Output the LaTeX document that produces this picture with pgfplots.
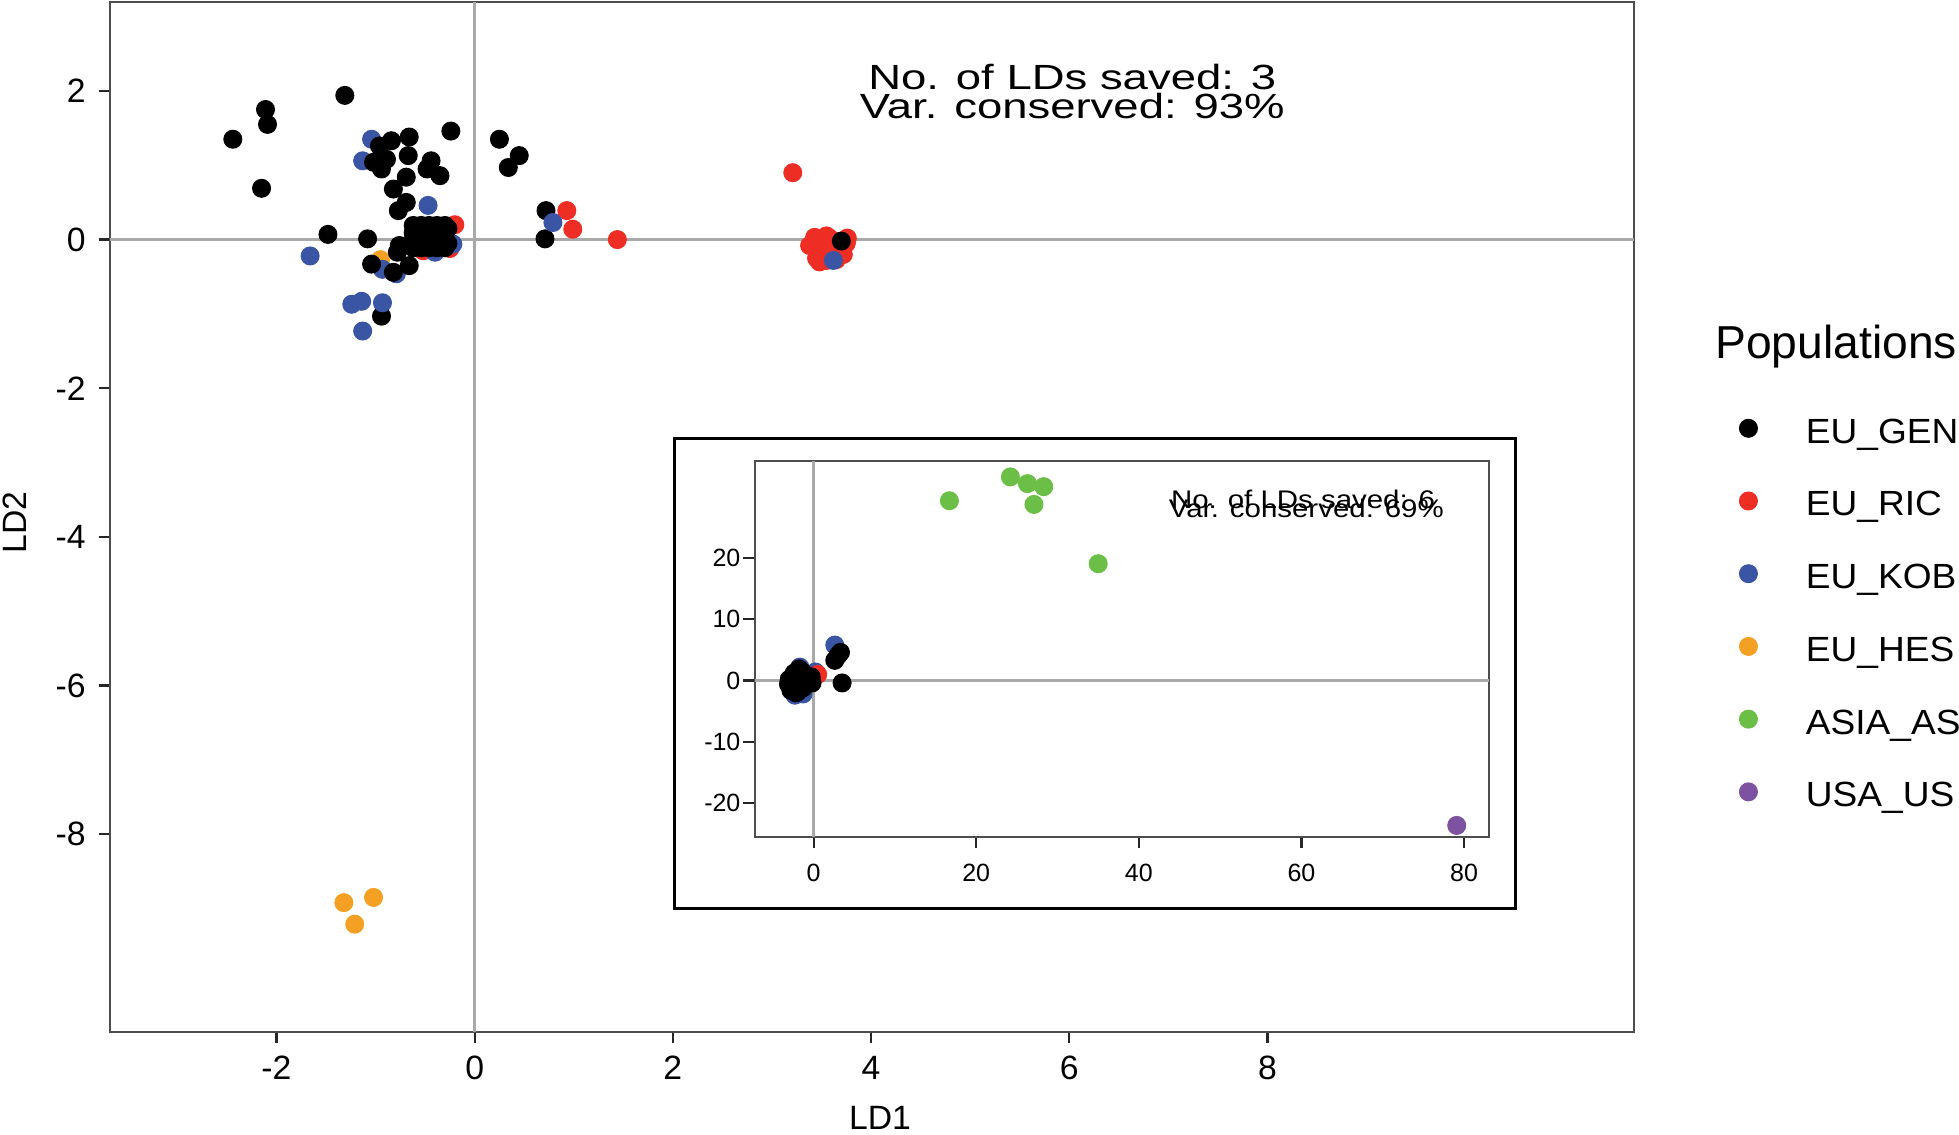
\documentclass[border=0pt]{standalone}
\usepackage{fontspec}
\setmainfont{Liberation Sans}
\usepackage{graphicx}
\usepackage{pgfplots}
\pgfplotsset{compat=1.18}

\definecolor{cgen}{HTML}{000000}
\definecolor{cric}{HTML}{EE2E24}
\definecolor{ckob}{HTML}{3B55A5}
\definecolor{ches}{HTML}{F4A024}
\definecolor{casia}{HTML}{6BBE46}
\definecolor{cusa}{HTML}{7D52A1}
\definecolor{zeroline}{HTML}{A9A9A9}
\definecolor{panelframe}{HTML}{4D4D4D}

\pgfplotsset{
  ldapanel/.style={
    scale only axis,
    axis line style={panelframe, line width=0.8pt},
    tick align=outside,
    xtick pos=lower, ytick pos=left,
    major tick length=4.5pt,
    every tick/.style={black!85, line width=0.9pt},
    /pgf/number format/assume math mode=true,
    extra x ticks={0}, extra y ticks={0},
    extra x tick labels={}, extra y tick labels={},
    extra tick style={grid=major, major grid style={zeroline, line width=1pt}, major tick length=0pt},
  },
  ldot/.style={only marks, mark=*, mark size=3.6pt, mark options={draw=#1, fill=#1}},
}
\newcommand{\legtext}[1]{\scalebox{1.06}[1]{#1}}

\begin{document}
\begin{tikzpicture}
\useasboundingbox (0,0) rectangle (784pt,454pt);

% main panel: first three discriminants
\begin{axis}[ldapanel,
  at={(44pt,41pt)}, anchor=south west,
  width=610pt, height=412pt,
  xmin=-3.68, xmax=11.70, ymin=-10.66, ymax=3.19,
  xtick={-2,0,2,4,6,8}, ytick={-8,-6,-4,-2,0,2},
  tick label style={font=\fontsize{13.5}{16}\selectfont},
  xticklabel style={inner sep=5pt},
  yticklabel style={inner sep=5pt},
  xlabel={LD1}, ylabel={LD2},
  label style={font=\fontsize{13.5}{16}\selectfont},
  xlabel style={at={(axis description cs:0.5052,-0.0951)}, anchor=base, inner sep=0pt},
  ylabel style={at={(axis description cs:-0.0623,0.495)}, anchor=center, inner sep=0pt},
  legend style={at={(1.0684,0.5961)}, anchor=north west, draw=none, fill=none,
    inner sep=0pt, outer sep=0pt, row sep=19.1pt, column sep=0pt,
    font=\fontsize{14}{14}\selectfont,
    nodes={inner sep=0pt, outer sep=0pt, text height=10pt, text depth=0pt}},
  legend cell align=left,
  legend image code/.code={\path[draw=none, fill=none] (-4pt,-3pt) rectangle (23pt,5pt); \draw plot coordinates {(0pt,1pt)};},
]
% EU_RIC, drawn under the others
\addplot[ldot=cric, forget plot] coordinates {
  (-0.20,0.20) (-0.52,-0.15) (-0.25,-0.12)
  (3.43,0.03) (3.50,-0.05) (3.55,0.05) (3.62,-0.02) (3.45,-0.12) (3.52,-0.18)
  (3.60,-0.15) (3.68,-0.10) (3.75,-0.05) (3.72,-0.20) (3.45,-0.25) (3.55,-0.28)
  (3.65,-0.27) (3.76,0.02) (3.58,0.02) (3.48,-0.30) (3.38,-0.08)
};
% EU_HES
\addplot[ldot=ches, forget plot] coordinates {
  (-1.32,-8.92) (-1.02,-8.85) (-1.21,-9.21) (-0.95,-0.27)
};
% EU_KOB, under
\addplot[ldot=ckob, forget plot] coordinates {
  (-1.04,1.35) (-1.13,1.06) (-1.66,-0.22) (-0.93,-0.40) (-0.79,-0.46)
  (-0.40,-0.17) (-0.22,-0.06)
};
% EU_GEN
\addplot[ldot=cgen, forget plot] coordinates {
  (-2.44,1.35) (-2.11,1.75) (-2.09,1.55) (-2.15,0.69) (-1.31,1.94)
  (-1.48,0.07) (-1.08,0.01) (-1.04,-0.33) (-0.94,-1.03) (-0.82,-0.44)
  (-0.66,-0.35) (-0.76,-0.08) (-0.78,-0.17) (-0.77,0.39) (-0.69,0.50)
  (-0.82,0.68) (-0.69,0.84) (-0.94,0.95) (-1.02,1.04) (-0.89,1.08)
  (-0.96,1.26) (-0.84,1.33) (-0.66,1.38) (-0.67,1.13) (-0.44,1.06)
  (-0.48,0.95) (-0.35,0.86) (-0.24,1.46) (0.25,1.35) (0.45,1.13)
  (0.34,0.97) (0.72,0.39) (0.71,0.01) (3.70,-0.02)
  (-0.62,0.19) (-0.54,0.19) (-0.46,0.19) (-0.38,0.19) (-0.30,0.19)
  (-0.62,0.09) (-0.54,0.09) (-0.46,0.09) (-0.38,0.09) (-0.30,0.09)
  (-0.62,-0.01) (-0.54,-0.01) (-0.46,-0.01) (-0.38,-0.01) (-0.30,-0.01)
  (-0.62,-0.11) (-0.54,-0.11) (-0.46,-0.11) (-0.38,-0.11) (-0.30,-0.11)
  (-0.27,0.15) (-0.27,-0.05)
};
% EU_RIC, on top
\addplot[ldot=cric, forget plot] coordinates {
  (0.93,0.39) (0.99,0.14) (1.44,0.00) (3.21,0.90)
};
% EU_KOB, on top
\addplot[ldot=ckob, forget plot] coordinates {
  (-0.47,0.46) (0.79,0.23) (3.62,-0.28) (-1.24,-0.87) (-1.14,-0.83)
  (-0.93,-0.85) (-1.13,-1.23)
};
\node[anchor=base] at (axis cs:6.03,2.017) {\fontsize{14}{14}\selectfont\scalebox{1.3}[1]{No. of LDs saved: 3}};
\node[anchor=base] at (axis cs:6.03,1.635) {\fontsize{14}{14}\selectfont\scalebox{1.3}[1]{Var. conserved: 93\%}};

\addlegendimage{ldot=cgen}\addlegendentry{\legtext{EU\_GEN}}
\addlegendimage{ldot=cric}\addlegendentry{\legtext{EU\_RIC}}
\addlegendimage{ldot=ckob}\addlegendentry{\legtext{EU\_KOB}}
\addlegendimage{ldot=ches}\addlegendentry{\legtext{EU\_HES}}
\addlegendimage{ldot=casia}\addlegendentry{\legtext{ASIA\_AS}}
\addlegendimage{ldot=cusa}\addlegendentry{\legtext{USA\_US}}
\end{axis}

\node[anchor=base west, inner sep=0pt] at (686.3pt,310.6pt) {\fontsize{18.5}{20}\selectfont Populations};

% inset: all six discriminants
\draw[black, line width=1.25pt, fill=white] (270pt,90.5pt) rectangle (606.5pt,278.5pt);
\begin{axis}[ldapanel,
  at={(302pt,119pt)}, anchor=south west,
  width=294pt, height=150.5pt,
  xmin=-7.26, xmax=83.1, ymin=-25.6, ymax=35.9,
  xtick={0,20,40,60,80}, ytick={-20,-10,0,10,20},
  tick label style={font=\fontsize{10}{12}\selectfont},
  xticklabel style={inner sep=6pt},
  yticklabel style={inner sep=1pt},
]
\addplot[ldot=ckob] coordinates {
  (-1.7,2.2) (0.2,1.4) (-1.3,-2.2) (-2.3,-2.4) (-2.9,-1.0)
};
\addplot[ldot=cric] coordinates {(0.5,1.0)};
\addplot[ldot=cgen] coordinates {
  (-3.0,0.2) (-2.6,-0.8) (-2.2,0.6) (-1.6,-0.4) (-2.8,-1.6) (-1.0,0.9)
  (-0.6,0.2) (-2.0,-1.9) (-1.3,-1.2) (-2.4,1.2) (-1.8,1.9) (-0.9,-0.3)
  (-0.3,0.6) (-3.1,-0.6) (-1.4,1.4) (-0.2,-0.4) (-2.2,-2.0)
  (3.5,-0.4)
};
\addplot[ldot=ckob] coordinates {(2.6,5.8)};
\addplot[ldot=cgen] coordinates {(2.6,3.3) (3.0,4.1) (3.3,4.6)};
\addplot[ldot=casia] coordinates {
  (16.7,29.4) (24.2,33.3) (26.3,32.2) (28.3,31.7) (27.1,28.8) (35.0,19.1)
};
\addplot[ldot=cusa] coordinates {(79.1,-23.7)};
\node[anchor=base] at (axis cs:60.2,28.2) {\fontsize{10.2}{10}\selectfont\scalebox{1.155}[1]{No. of LDs saved: 6}};
\node[anchor=base] at (axis cs:60.6,26.6) {\fontsize{10.2}{10}\selectfont\scalebox{1.155}[1]{Var. conserved: 69\%}};
\end{axis}
\end{tikzpicture}
\end{document}
